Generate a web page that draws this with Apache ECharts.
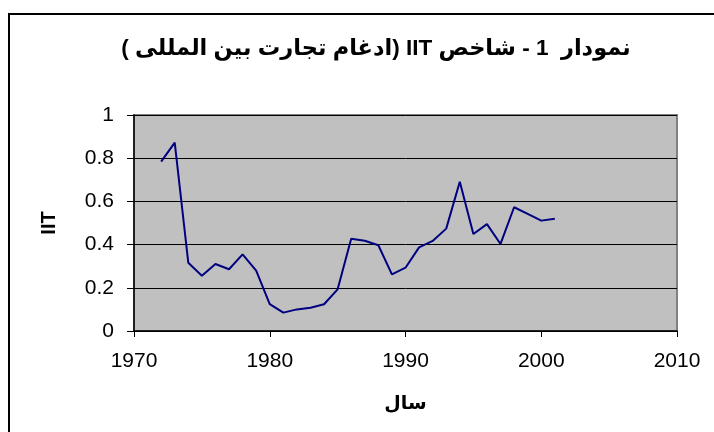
<!DOCTYPE html>
<html>
<head>
<meta charset="utf-8">
<script src="https://cdn.jsdelivr.net/npm/echarts@6/dist/echarts.min.js"></script>
<style>
html,body{margin:0;padding:0;background:#fff;}
#chart{width:714px;height:432px;}
</style>
</head>
<body>
<div id="chart"></div>
<script>
const titleText = 'نمودار  1 - شاخص IIT (ادغام تجارت بین المللی )';
const xAxisName = 'سال';
const yAxisName = 'IIT';
const years = [1972,1973,1974,1975,1976,1977,1978,1979,1980,1981,1982,1983,1984,1985,1986,1987,1988,1989,1990,1991,1992,1993,1994,1995,1996,1997,1998,1999,2000,2001];
const iit = [0.784,0.872,0.316,0.256,0.310,0.286,0.355,0.279,0.124,0.085,0.100,0.108,0.124,0.193,0.427,0.418,0.397,0.262,0.293,0.387,0.417,0.474,0.691,0.449,0.495,0.403,0.573,0.542,0.511,0.520];

const font = 'Arial, "Liberation Sans", "DejaVu Sans", sans-serif';
const chart = echarts.init(document.getElementById('chart'), null, {renderer: 'canvas'});
chart.setOption({
  animation: false,
  backgroundColor: '#ffffff',
  title: {
    text: '\u202B' + titleText + '\u202C',
    left: 371,
    top: 32,
    textAlign: 'center',
    textStyle: {fontFamily: font, fontSize: 22.5, fontWeight: 'bold', color: '#000'}
  },
  graphic: [{
    type: 'rect',
    shape: {x: 9, y: 14, width: 900, height: 600},
    style: {fill: null, stroke: '#000', lineWidth: 2},
    silent: true
  }],
  grid: {
    left: 134, right: 37, top: 115, bottom: 101,
    show: true, backgroundColor: '#C0C0C0', borderColor: '#808080', borderWidth: 2
  },
  xAxis: {
    type: 'value', min: 1970, max: 2010, interval: 10,
    name: xAxisName, nameLocation: 'middle', nameGap: 63,
    nameTextStyle: {fontFamily: font, fontSize: 19, fontWeight: 'bold', color: '#000'},
    axisLine: {show: true, onZero: false, lineStyle: {color: '#000', width: 1.5}},
    axisTick: {show: true, inside: false, length: 6, lineStyle: {color: '#000'}},
    axisLabel: {fontFamily: font, fontSize: 21, color: '#000', margin: 20,
      formatter: v => String(v)},
    splitLine: {show: false}
  },
  yAxis: {
    type: 'value', min: 0, max: 1, interval: 0.2,
    name: yAxisName, nameLocation: 'middle', nameGap: 75, nameRotate: 90,
    nameTextStyle: {fontFamily: font, fontSize: 20, fontWeight: 'bold', color: '#000'},
    axisLine: {show: true, lineStyle: {color: '#000', width: 1.5}},
    axisTick: {show: true, inside: false, length: 7, lineStyle: {color: '#000'}},
    axisLabel: {fontFamily: font, fontSize: 21, color: '#000', margin: 20},
    splitLine: {show: true, lineStyle: {color: '#000', width: 1}}
  },
  series: [{
    type: 'line',
    data: years.map((y, i) => [y, iit[i]]),
    showSymbol: false,
    symbol: 'none',
    lineStyle: {color: '#000080', width: 2},
    z: 3
  }]
});
</script>
</body>
</html>
